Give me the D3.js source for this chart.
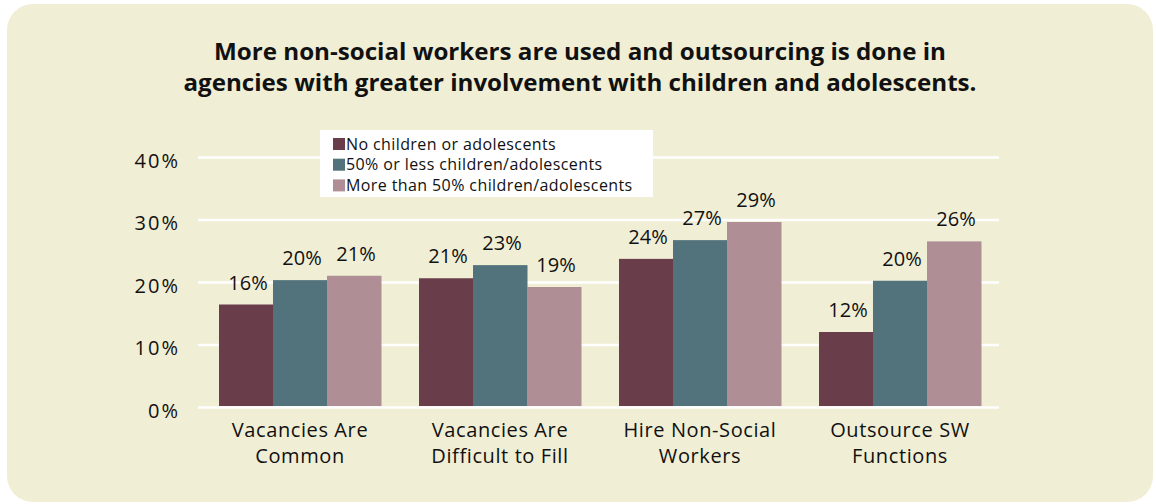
<!DOCTYPE html>
<html>
<head>
<meta charset="utf-8">
<script src="https://cdn.jsdelivr.net/npm/d3@7"></script>
<style>
  body { margin: 0; background: #fff; }
  svg { display: block; font-family: "Open Sans", "Noto Sans", sans-serif; }
</style>
</head>
<body>
<div id="chart"></div>
<script>
// chart data
const categories = ["Vacancies Are\nCommon", "Vacancies Are\nDifficult to Fill", "Hire Non-Social\nWorkers", "Outsource SW\nFunctions"];
const seriesNames = ["No children or adolescents", "50% or less children/adolescents", "More than 50% children/adolescents"];
const noChildren = [16.4, 20.6, 23.7, 12.0];
const halfOrLess = [20.3, 22.7, 26.7, 20.2];
const moreThanHalf = [21.0, 19.2, 29.6, 26.5];
const valueLabels = [["16%", "20%", "21%"], ["21%", "23%", "19%"], ["24%", "27%", "29%"], ["12%", "20%", "26%"]];
const yTicks = [0, 10, 20, 30, 40];
const titleLines = ["More non-social workers are used and outsourcing is done in",
                    "agencies with greater involvement with children and adolescents."];

const colors = ["#6a3d4b", "#53737c", "#b08e96"];

const width = 1156, height = 504;
const margin = {top: 157, right: 156, bottom: 97, left: 198};

const svg = d3.select("#chart").append("svg")
  .attr("width", width)
  .attr("height", height);

// background panel
svg.append("rect")
  .attr("x", 7).attr("y", 4)
  .attr("width", 1146).attr("height", 498)
  .attr("rx", 26).attr("ry", 26)
  .attr("fill", "#f0eed5");

// title
svg.append("g").selectAll("text")
  .data(titleLines)
  .join("text")
    .attr("x", 580)
    .attr("y", (d, i) => 60 + i * 31)
    .attr("text-anchor", "middle")
    .attr("font-size", 23)
    .attr("font-weight", "bold")
    .attr("fill", "#111")
    .attr("textLength", (d, i) => i === 0 ? 732 : 793)
    .attr("lengthAdjust", "spacingAndGlyphs")
    .text(d => d);

const x0 = d3.scaleBand()
  .domain(categories)
  .range([200, 1000])
  .paddingInner(0.19)
  .paddingOuter(0.095);

const x1 = d3.scaleBand()
  .domain(d3.range(seriesNames.length))
  .range([0, x0.bandwidth()]);

const y = d3.scaleLinear()
  .domain([0, 40])
  .range([height - margin.bottom - 0, margin.top]);

// gridlines + tick labels
const gridRight = 999, gridLeft = margin.left;
svg.append("g")
  .attr("transform", `translate(${gridRight},0)`)
  .call(d3.axisLeft(y).tickValues(yTicks).tickFormat(d => d + "%")
        .tickSizeInner(gridRight - gridLeft).tickSizeOuter(0).tickPadding(18))
  .call(g => g.select(".domain").remove())
  .call(g => g.selectAll(".tick line").attr("stroke", "#fff").attr("stroke-width", 2.5))
  .call(g => g.selectAll(".tick text")
      .attr("font-size", 20)
      .attr("letter-spacing", 2)
      .attr("fill", "#111")
      .attr("dy", "0.5em")
      .attr("font-family", "'Open Sans', sans-serif"));

const series = [noChildren, halfOrLess, moreThanHalf];
const rows = categories.map((c, i) => ({cat: c, vals: series.map(s => s[i]), labels: valueLabels[i]}));

const groups = svg.append("g").selectAll("g")
  .data(rows)
  .join("g")
    .attr("transform", d => `translate(${x0(d.cat)},0)`);

groups.selectAll("rect")
  .data(d => d.vals.map((v, j) => ({v, j})))
  .join("rect")
    .attr("x", d => x1(d.j))
    .attr("y", d => y(d.v))
    .attr("width", x1.bandwidth() + 0.5)
    .attr("height", d => y(0) - y(d.v) - 1)
    .attr("fill", d => colors[d.j]);

groups.selectAll("text")
  .data(d => d.vals.map((v, j) => ({v, j, label: d.labels[j]})))
  .join("text")
    .attr("x", d => x1(d.j) + x1.bandwidth() / 2 + 2)
    .attr("y", d => y(d.v) - 15)
    .attr("text-anchor", "middle")
    .attr("font-size", 20)
    .attr("fill", "#111")
    .text(d => d.label);

// category labels
svg.append("g").selectAll("text")
  .data(categories)
  .join("text")
    .attr("x", d => x0(d) + x0.bandwidth() / 2)
    .attr("y", 437)
    .attr("text-anchor", "middle")
    .attr("font-size", 20)
    .attr("letter-spacing", 0.6)
    .attr("fill", "#111")
    .selectAll("tspan")
    .data(d => d.split("\n"))
    .join("tspan")
      .attr("x", function() { return d3.select(this.parentNode).attr("x"); })
      .attr("dy", (d, i) => i === 0 ? 0 : 26)
      .text(d => d);

// legend
const legend = svg.append("g").attr("transform", "translate(320,130)");
legend.append("rect")
  .attr("width", 333).attr("height", 67)
  .attr("fill", "#fff");
const items = legend.selectAll("g")
  .data(seriesNames)
  .join("g")
    .attr("transform", (d, i) => `translate(13,${8 + i * 20.7})`);
items.append("rect")
  .attr("width", 12).attr("height", 12)
  .attr("fill", (d, i) => colors[i]);
items.append("text")
  .attr("x", 13)
  .attr("y", 11.5)
  .attr("font-size", 16)
  .attr("letter-spacing", 0.4)
  .attr("fill", "#111")
  .text(d => d);
</script>
</body>
</html>
